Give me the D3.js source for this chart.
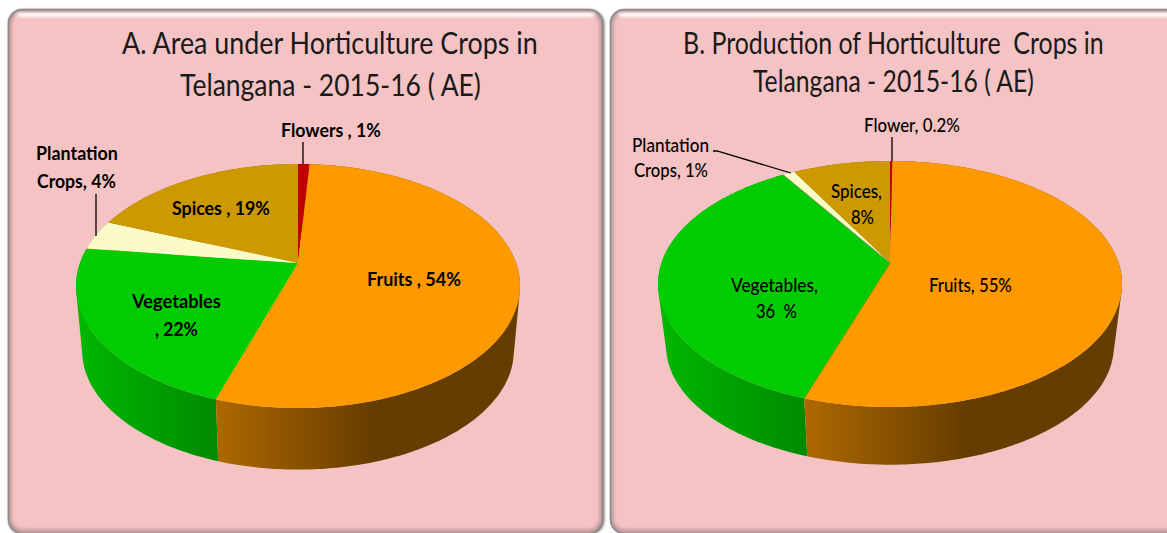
<!DOCTYPE html>
<html><head><meta charset="utf-8">
<script src="https://cdnjs.cloudflare.com/ajax/libs/d3/7.8.5/d3.min.js"></script>
<style>html,body{margin:0;padding:0;background:#fff;overflow:hidden}svg{display:block}text{font-family:Lato,"Open Sans",sans-serif;fill:#000}</style>
</head><body><svg id="c" width="1167" height="533"></svg>
<script>
// ---- data ----
const categoriesA = ["Flowers","Fruits","Vegetables","Plantation Crops","Spices"];
const valuesA = [1,54,22,4,19];
const categoriesB = ["Flower","Fruits","Vegetables","Plantation Crops","Spices"];
const valuesB = [0.2,55,36,1,8];
const titleA = ["A. Area under Horticulture Crops in","Telangana - 2015-16 ( AE)"];
const titleB = ["B. Production of Horticulture  Crops in","Telangana - 2015-16 ( AE)"];
// ---- colours ----
const topColors = ["#C00000","#FF9900","#00CC00","#FBFBC8","#CC9900"];
const sideColors = ["#800000",null,null,"#CCCC99","#886600"];
// ---- layout ----
const panels = [
 {x:8,y:9,w:595,h:524,titleLines:titleA,titleSize:31,
  title:[[122,538,54],[180,481,96]],
  cat:categoriesA,val:valuesA,cx:298,cy:263,up:99,down:145,rx:222,depth:65,shrink:0.972,
  grad:[217,375,76],
  labels:[["Flowers , 1%",281,381,130],["Plantation",36,118,153],["Crops, 4%",37,116,181],["Spices , 19%",172,270,208],["Fruits , 54%",367,461,279],["Vegetables",132,221,301],[", 22%",155,198,329]],
  leaders:[[[303,142],[303,164]],[[96,194],[96,236]]],edge:false},
 {x:610,y:9,w:600,h:524,titleLines:titleB,titleSize:31,
  title:[[683,1104,54],[753,1034,92]],
  cat:categoriesB,val:valuesB,cx:890,cy:263,up:102,down:144,rx:232,depth:62,shrink:0.965,
  grad:[806,965,658],
  labels:[["Flower, 0.2%",864,960,125],["Plantation",632,709,145],["Crops, 1%",634,708,170],["Spices,",831,882,191],["8%",851,874,217],["Vegetables,",731,818,285],["36  %",756,797,311],["Fruits, 55%",929,1012,285]],
  leaders:[[[892,137],[892,161]],[[713,151],[717,151],[791,173]]],edge:true}
];
const svg = d3.select("#c");
const defs = svg.append("defs");
const blur = (id,s)=>defs.append("filter").attr("id",id).attr("x","-5%").attr("y","-50%").attr("width","110%").attr("height","200%")
  .append("feGaussianBlur").attr("stdDeviation",s);
blur("b2",2.2); blur("b1",1.6);
function hgrad(id,x1,x2,c1,c2){
  const g=defs.append("linearGradient").attr("id",id).attr("gradientUnits","userSpaceOnUse")
    .attr("x1",x1).attr("x2",x2).attr("y1",0).attr("y2",0);
  g.append("stop").attr("offset",0).attr("stop-color",c1);
  g.append("stop").attr("offset",1).attr("stop-color",c2);
}
// place a text so that it spans x0..x1 by squeezing it horizontally
function fit(sel,x0,x1,y){
  const n=sel.node().getComputedTextLength();
  sel.attr("transform",`translate(${x0},${y}) scale(${(x1-x0)/n},1)`);
}
const line = d3.line();
panels.forEach((p,pi)=>{
  const g = svg.append("g");
  // panel frame
  const clipId="clip"+pi;
  defs.append("clipPath").attr("id",clipId).append("rect").attr("x",p.x).attr("y",p.y).attr("width",p.w).attr("height",p.h).attr("rx",14);
  g.append("rect").attr("x",p.x+1).attr("y",p.y+1).attr("width",p.w).attr("height",p.h).attr("rx",14).attr("fill","#444").attr("filter","url(#b1)").attr("opacity",pi==0?0.9:0.3);
  g.append("rect").attr("x",p.x).attr("y",p.y).attr("width",p.w).attr("height",p.h).attr("rx",14).attr("fill","#F5C3C3");
  const inner=g.append("g").attr("clip-path",`url(#${clipId})`);
  inner.append("rect").attr("x",p.x+0.5).attr("y",p.y+1).attr("width",p.w-1).attr("height",p.h-1.5).attr("rx",14)
    .attr("fill","none").attr("stroke","#a08080").attr("stroke-width",4).attr("filter","url(#b2)");
  inner.append("rect").attr("x",p.x+8).attr("y",p.y+4).attr("width",p.w-16).attr("height",3.5).attr("rx",1.7).attr("fill","#fff").attr("filter","url(#b1)");
  inner.append("rect").attr("x",p.x+12).attr("y",p.y+4.5).attr("width",p.w-24).attr("height",2.5).attr("rx",1.2).attr("fill","#fff").attr("opacity",0.8).attr("filter","url(#b1)");
  g.append("rect").attr("x",p.x+0.5).attr("y",p.y+0.5).attr("width",p.w-1).attr("height",p.h).attr("rx",14).attr("fill","none").attr("stroke","#8c8c8c").attr("stroke-width",1.6);

  // perspective projection of a disc: k and a,b from the visible extents
  const k=(p.down/p.up-1)/(p.down/p.up+1), a=p.up*(1+k), b=p.rx*Math.sqrt(1-k*k);
  const proj=th=>{const u=Math.sin(th),v=-Math.cos(th),w=1-k*v;return [p.cx+b*u/w,p.cy+a*v/w];};
  const ellY=p.cy+(p.down-p.up)/2;
  const lower=q=>[p.cx+p.shrink*(q[0]-p.cx),ellY+p.depth+p.shrink*(q[1]-ellY)];
  const arcs=d3.pie().sort(null)(p.val);
  const grads=[null,"f"+pi,"v"+pi,null,null];
  hgrad("f"+pi,p.grad[0],p.grad[1],"#AD6800","#663D00");
  hgrad("v"+pi,p.grad[2],p.grad[0],"#00B800","#008A00");
  const pts=arc=>{const n=Math.max(2,Math.ceil((arc.endAngle-arc.startAngle)/0.015));
    return d3.range(n+1).map(i=>proj(arc.startAngle+(arc.endAngle-arc.startAngle)*i/n));};
  // sides, back to front
  const sides=g.append("g");
  [3,4,0,2,1].forEach(i=>{
    const t=pts(arcs[i]);let d="";
    for(let j=0;j<t.length-1;j++){
      let q=[t[j],t[j+1],lower(t[j+1]),lower(t[j])];
      if(d3.polygonArea(q)<0)q=q.reverse();
      d+=line(q)+"Z";
    }
    sides.append("path").attr("d",d).attr("fill",grads[i]?`url(#${grads[i]})`:sideColors[i]);
  });
  // top faces
  const tops=g.append("g");
  arcs.forEach((arc,i)=>{
    tops.append("path").attr("d",line([[p.cx,p.cy],...pts(arc)])+"Z").attr("fill",topColors[i]);
  });
  if(p.edge){
    const e=proj(arcs[2].endAngle), s=proj(arcs[2].startAngle);
    tops.append("path").attr("d",line([[p.cx,p.cy],e])).attr("stroke","#7f8f6f").attr("stroke-width",1).attr("fill","none");
    tops.append("path").attr("d",line([[p.cx,p.cy],s])).attr("stroke","#55a000").attr("stroke-width",1).attr("fill","none");
  }
  // leader lines
  p.leaders.forEach(l=>g.append("path").attr("d",line(l)).attr("fill","none").attr("stroke","#000").attr("stroke-width",1.3));
  // title
  p.titleLines.forEach((t,i)=>{
    const [x0,x1,y]=p.title[i];
    const s=g.append("text").attr("font-size",p.titleSize).style("fill","#1a1a1a").style("white-space","pre").text(t);
    fit(s,x0,x1,y);
  });
  // slice labels
  p.labels.forEach(([t,x0,x1,y])=>{
    const s=g.append("text").attr("dy","0.36em").attr("font-size",19).attr("font-weight",pi==0?700:500).style("white-space","pre").text(t);
    fit(s,x0,x1,y);
  });
});
</script></body></html>
